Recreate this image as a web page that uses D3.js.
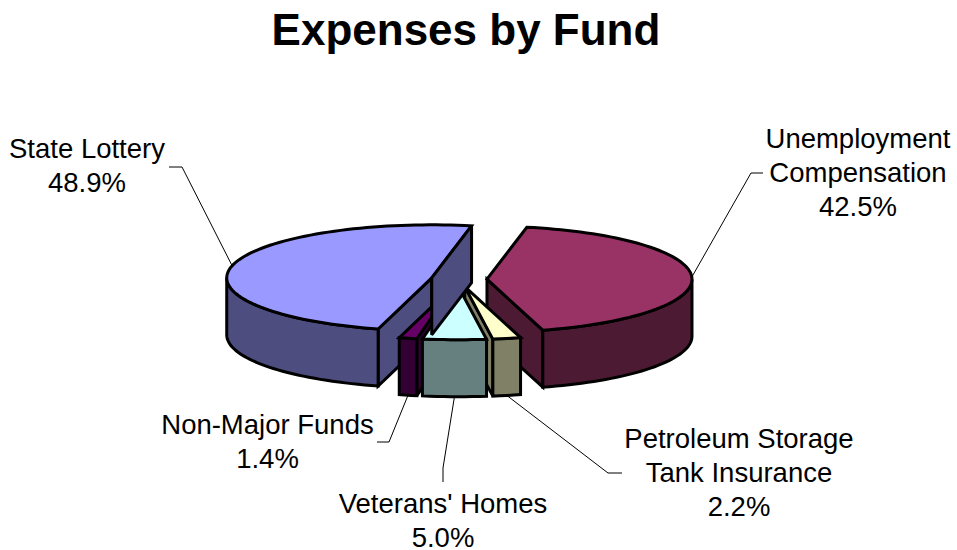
<!DOCTYPE html>
<html>
<head>
<meta charset="utf-8">
<script src="https://cdn.jsdelivr.net/npm/d3@7"></script>
<style>
  html, body { margin: 0; padding: 0; background: #fff; overflow: hidden; }
  text { font-family: "Liberation Sans", Arial, sans-serif; fill: #000; }
</style>
</head>
<body>
<svg id="chart" width="957" height="550"></svg>
<script>
// data, clockwise from the first slice
var categories = ["Unemployment Compensation", "Petroleum Storage Tank Insurance", "Veterans' Homes", "Non-Major Funds", "State Lottery"];
var values = [42.5, 2.2, 5.0, 1.4, 48.9];
var labelLines = [["Unemployment", "Compensation", "42.5%"], ["Petroleum Storage", "Tank Insurance", "2.2%"], ["Veterans' Homes", "5.0%"], ["Non-Major Funds", "1.4%"], ["State Lottery", "48.9%"]];
var topColors = ["#993366", "#ffffcc", "#ccffff", "#660066", "#9999ff"];
var wallColors = ["#4d1a33", "#808066", "#668080", "#330033", "#4d4d80"];
var labelX = [858, 739, 443, 267.5, 87];
var labelY = [148, 448, 513, 434, 158];
var elbows = [[[763, 173], [751, 173]], [[622, 473], [608, 473]], [[443, 482], [443, 468]], [[377, 442], [389, 442]], [[169, 167], [182, 167]]];

var cx = 459, cy = 279.5, rx = 205, ry = 53, depth = 57, explode = 28;
var startDeg = 11.2;

var svg = d3.select("#chart");
var toRad = Math.PI / 180;

var arcs = d3.pie().sort(null).startAngle(startDeg * toRad).endAngle((startDeg + 360) * toRad)(values);

// rim point of a slice at angle a, a=0 at the back of the ellipse, clockwise
function slices(d) {
  var mid = (d.startAngle + d.endAngle) / 2;
  var ax = cx + explode * Math.sin(mid);
  var ay = cy - explode * (ry / rx) * Math.cos(mid);
  return { ax: ax, ay: ay, a0: d.startAngle, a1: d.endAngle, mid: mid };
}
function rim(s, a, dy) {
  return [s.ax + rx * Math.sin(a), s.ay - ry * Math.cos(a) + (dy || 0)];
}
function sweep(s, a0, a1, dy) {
  var n = Math.max(2, Math.ceil(Math.abs(a1 - a0) / (2 * toRad)));
  return d3.range(n + 1).map(function(i) { return rim(s, a0 + (a1 - a0) * i / n, dy); });
}
var line = d3.line();

function shape(pts, fill) {
  svg.append("path")
    .attr("d", line(pts) + "Z")
    .style("fill", fill)
    .style("stroke", "#000")
    .style("stroke-width", "3px")
    .style("stroke-linejoin", "miter")
    .style("stroke-miterlimit", 3);
}
function cutWall(s, a, fill) {
  var p = rim(s, a);
  shape([[s.ax, s.ay], p, [p[0], p[1] + depth], [s.ax, s.ay + depth]], fill);
}
function outerWall(s, fill) {
  var from = Math.max(s.a0, Math.PI / 2), to = Math.min(s.a1, 3 * Math.PI / 2);
  if (to <= from) return;
  shape(sweep(s, from, to).concat(sweep(s, to, from, depth)), fill);
}
function topFace(s, fill) {
  shape([[s.ax, s.ay]].concat(sweep(s, s.a0, s.a1)), fill);
}
function drawSlice(i, skipEndWall) {
  var s = slices(arcs[i]);
  if (Math.sin(s.a0) < 0) cutWall(s, s.a0, wallColors[i]);
  if (!skipEndWall && Math.cos(s.a1 + Math.PI / 2) < 0) cutWall(s, s.a1, wallColors[i]);
  outerWall(s, wallColors[i]);
  topFace(s, topColors[i]);
}

// leader lines sit under the pie
values.forEach(function(v, i) {
  var s = slices(arcs[i]);
  var front = Math.cos(s.mid) < 0;
  var anchor = rim(s, s.mid, front ? depth : 0);
  svg.append("path")
    .attr("d", line([anchor].concat(elbows[i].slice().reverse())))
    .style("fill", "none")
    .style("stroke", "#000")
    .style("stroke-width", "1px");
});

// painter's order, back to front
drawSlice(4, true);
drawSlice(0);
drawSlice(3);
drawSlice(1);
drawSlice(2);
var lottery = slices(arcs[4]);
cutWall(lottery, lottery.a1, wallColors[4]);

svg.append("text")
  .attr("x", 466).attr("y", 45)
  .attr("text-anchor", "middle")
  .style("font-size", "44px")
  .style("font-weight", "bold")
  .text("Expenses by Fund");

labelLines.forEach(function(lines, i) {
  lines.forEach(function(t, j) {
    svg.append("text")
      .attr("x", labelX[i])
      .attr("y", labelY[i] + j * 34)
      .attr("text-anchor", "middle")
      .style("font-size", "27.5px")
      .text(t);
  });
});
</script>
</body>
</html>
